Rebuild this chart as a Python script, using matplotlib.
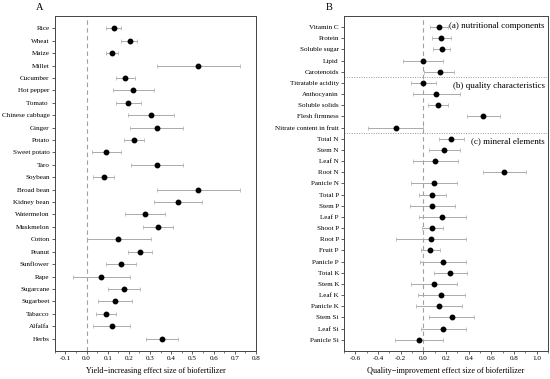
import numpy as np
import matplotlib
matplotlib.use("Agg")
import matplotlib.pyplot as plt
from matplotlib.ticker import MultipleLocator

plt.rcParams['font.family'] = ['Liberation Serif', 'DejaVu Serif']

# panel A: yield
crops = ["Rice", "Wheat", "Maize", "Millet", "Cucumber", "Hot pepper", "Tomato ",
         "Chinese cabbage", "Ginger", "Potato", "Sweet potato", "Taro", "Soybean",
         "Broad bean", "Kidney bean", "Watermelon", "Muskmelon", "Cotton", "Peanut",
         "Sunflower", "Rape", "Sugarcane", "Sugarbeet", "Tabacco", "Alfalfa", "Herbs"]
yield_es = [0.128, 0.204, 0.120, 0.528, 0.182, 0.221, 0.198, 0.304, 0.332, 0.223,
            0.093, 0.335, 0.081, 0.528, 0.433, 0.277, 0.338, 0.150, 0.253, 0.163,
            0.070, 0.177, 0.134, 0.093, 0.119, 0.357]
yield_lo = [0.093, 0.164, 0.093, 0.335, 0.139, 0.125, 0.138, 0.198, 0.207, 0.177,
            0.027, 0.210, 0.030, 0.335, 0.319, 0.182, 0.267, 0.000, 0.196, 0.092,
            -0.062, 0.101, 0.054, 0.044, 0.032, 0.283]
yield_hi = [0.164, 0.240, 0.147, 0.724, 0.229, 0.319, 0.259, 0.411, 0.457, 0.272,
            0.164, 0.457, 0.131, 0.724, 0.547, 0.372, 0.409, 0.305, 0.311, 0.232,
            0.204, 0.251, 0.213, 0.141, 0.204, 0.433]

# panel B: quality
traits = ["Vitamin C", "Protein", "Soluble sugar", "Lipid", "Carotenoids",
          "Titratable acidity", "Anthocyanin", "Soluble solids", "Flesh firmness",
          "Nitrate content in fruit",
          "Total N", "Stem N", "Leaf N", "Root N", "Panicle N",
          "Total P", "Stem P", "Leaf P", "Shoot P", "Root P", "Fruit P", "Panicle P",
          "Total K", "Stem K", "Leaf K", "Panicle K",
          "Stem Si", "Leaf Si", "Panicle Si"]
qual_es = [0.137, 0.155, 0.161, -0.006, 0.146,
           -0.003, 0.113, 0.131, 0.527, -0.244,
           0.244, 0.185, 0.104, 0.715, 0.092,
           0.077, 0.080, 0.167, 0.080, 0.069, 0.057, 0.173,
           0.238, 0.092, 0.158, 0.140,
           0.253, 0.176, -0.042]
qual_lo = [0.060, 0.074, 0.089, -0.179, 0.009,
           -0.113, -0.095, 0.045, 0.381, -0.492,
           0.137, 0.048, -0.095, 0.527, -0.110,
           -0.039, -0.116, -0.036, -0.009, -0.241, -0.024, -0.033,
           0.095, -0.110, -0.048, -0.063,
           0.054, -0.024, -0.250]
qual_hi = [0.220, 0.241, 0.232, 0.173, 0.274,
           0.107, 0.319, 0.215, 0.676, 0.000,
           0.358, 0.322, 0.307, 0.906, 0.298,
           0.197, 0.283, 0.375, 0.173, 0.375, 0.143, 0.378,
           0.384, 0.298, 0.367, 0.340,
           0.450, 0.378, 0.170]
group_names = ["(a) nutritional components", "(b) quality characteristics", "(c) mineral elements"]
group_start = [0, 5, 10]

fig = plt.figure(figsize=(5.5, 3.79), dpi=100)
axA = fig.add_axes([0.0995, 0.074, 0.366, 0.884])
axB = fig.add_axes([0.6255, 0.074, 0.371, 0.884])


def forest(ax, labels, es, lo, hi):
    y = np.arange(len(labels))
    es = np.array(es)
    err = [es - np.array(lo), np.array(hi) - es]
    ax.axvline(0, color='#a0a0a0', ls=(0, (4, 3)), lw=0.8, zorder=1)
    ax.errorbar(es, y, xerr=err, fmt='o', color='black', ms=3.2,
                ecolor='#aaaaaa', elinewidth=0.7, capsize=1.3, capthick=0.5, zorder=3)
    ax.set_yticks(y)
    ax.set_yticklabels(labels)
    ax.set_ylim(len(labels), -1)
    ax.tick_params(axis='both', labelsize=5.1, length=2.2, width=0.6, color='#444444', pad=1.5)
    ax.tick_params(axis='x', which='minor', length=1.3, width=0.5, color='#444444')
    for s in ax.spines.values():
        s.set_linewidth(0.7)
        s.set_color('#444444')


forest(axA, crops, yield_es, yield_lo, yield_hi)
axA.set_xlim(-0.15, 0.8)
axA.xaxis.set_major_locator(MultipleLocator(0.1))
axA.xaxis.set_minor_locator(MultipleLocator(0.05))
axA.set_xticklabels([f"{v:.1f}" for v in axA.get_xticks()])
axA.set_xlabel("Yield\u2212increasing effect size of biofertilizer", fontsize=5.9, labelpad=4)
fig.text(0.072, 0.981, "A", fontsize=7.5, ha='center', va='center')

forest(axB, traits, qual_es, qual_lo, qual_hi)
axB.set_xlim(-0.7, 1.1)
axB.xaxis.set_major_locator(MultipleLocator(0.2))
axB.xaxis.set_minor_locator(MultipleLocator(0.1))
axB.set_xticklabels([f"{v:.1f}" for v in axB.get_xticks()])
axB.set_xlabel("Quality\u2212improvement effect size of biofertilizer", fontsize=5.9, labelpad=4)
fig.text(0.598, 0.981, "B", fontsize=7.5, ha='center', va='center')

for k in group_start[1:]:
    axB.axhline(k - 0.5, color='#999999', ls=(0, (1, 1.5)), lw=0.7, zorder=1)
text_rows = [-0.1, 5.3, 10.2]
for name, r in zip(group_names, text_rows):
    axB.text(1.07, r, name, fontsize=6.5, ha='right', va='center')

fig.savefig("out.png", dpi=100)
